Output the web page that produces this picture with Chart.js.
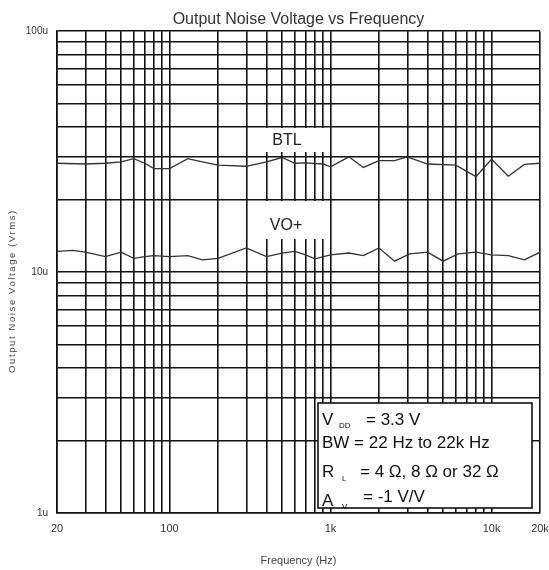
<!DOCTYPE html>
<html>
<head>
<meta charset="utf-8">
<title>Output Noise Voltage vs Frequency</title>
<script src="https://cdn.jsdelivr.net/npm/chart.js@4.4.1/dist/chart.umd.min.js"></script>
<style>
    body { margin: 0; background: #fff; }
    #wrap { width: 549px; height: 570px; position: relative; }
</style>
</head>
<body>
<div id="wrap"><canvas id="noiseChart"></canvas></div>
<script>
// values (noise in uVrms)

const btlFreq = [20, 30, 40, 50, 60, 70, 80, 100, 130, 160, 200, 300, 400, 500, 600, 700, 900, 1000,
    1300, 1600, 2000, 2500, 3000, 4000, 6000, 8000, 10000, 12700, 16000, 20000];
const btlNoise = [28.3, 28.1, 28.3, 28.7, 29.6, 28.3, 26.9, 26.9, 29.6, 28.7, 27.8, 27.5, 28.7, 29.9, 28.3, 28.4, 28.1, 27.35,
    30.1, 27.2, 29.0, 29.0, 30.1, 28.1, 27.8, 24.9, 29.4, 25.0, 28.0, 28.3];

const voFreq = [20, 25, 30, 40, 50, 60, 70, 80, 100, 130, 160, 200, 300, 400, 500, 600, 700, 800, 1000,
    1300, 1600, 2000, 2500, 3100, 4000, 5000, 6200, 8000, 10000, 12700, 16000, 20000];
const voNoise = [12.19, 12.3, 12.1, 11.6, 12.1, 11.4, 11.6, 11.7, 11.6, 11.7, 11.25, 11.4, 12.6, 11.6, 12.0, 12.2, 11.8, 11.35, 11.8,
    12.0, 11.7, 12.6, 11.1, 11.9, 12.1, 11.1, 11.9, 12.1, 11.8, 11.7, 11.25, 12.1];

// grid lines and tick labels
const freqTicks = [20, 30, 40, 50, 60, 70, 80, 90, 100, 200, 300, 400, 500, 600, 700, 800, 900, 1000,
    2000, 3000, 4000, 5000, 6000, 7000, 8000, 9000, 10000, 20000];
const freqLabels = { 20: '20', 100: '100', 1000: '1k', 10000: '10k', 20000: '20k' };
const noiseTicks = [1, 2, 3, 4, 5, 6, 7, 8, 9, 10, 20, 30, 40, 50, 60, 70, 80, 90, 100];
const noiseLabels = { 1: '1u', 10: '10u', 100: '100u' };

const curveLabels = ['BTL', 'VO+'];
const conditions = ['V', 'DD', '= 3.3 V', 'BW = 22 Hz to 22k Hz', 'R', 'L', '= 4 Ω, 8 Ω or 32 Ω', 'A', 'V', '= -1 V/V'];

const font = "'Liberation Sans', Arial, sans-serif";
const ink = '#111';

function toPoints(xs, ys) {
    return xs.map((x, i) => ({ x: x, y: ys[i] }));
}

// white label boxes over the grid, before the curves
const curveLabelPlugin = {
    id: 'curveLabels',
    beforeDatasetsDraw(chart) {
        const ctx = chart.ctx;
        const a = chart.chartArea;
        ctx.save();
        ctx.fillStyle = '#fff';
        ctx.fillRect(a.left + 205, 128, 65, 24);
        ctx.fillRect(a.left + 205, 201, 65, 38);
        ctx.fillStyle = '#222';
        ctx.font = '16px ' + font;
        ctx.textAlign = 'center';
        ctx.textBaseline = 'middle';
        ctx.fillText(curveLabels[0], a.left + 230, 141);
        ctx.fillText(curveLabels[1], a.left + 229, 226);
        ctx.restore();
    }
};

// conditions box and the y axis title
const notesPlugin = {
    id: 'notes',
    afterDatasetsDraw(chart) {
        const ctx = chart.ctx;
        ctx.save();
        ctx.fillStyle = '#fff';
        ctx.strokeStyle = ink;
        ctx.lineWidth = 1.6;
        ctx.fillRect(318, 403, 214, 105);
        ctx.strokeRect(318, 403, 214, 105);

        ctx.fillStyle = ink;
        ctx.textAlign = 'left';
        ctx.textBaseline = 'alphabetic';
        const big = '17px ' + font;
        const small = '8px ' + font;
        ctx.font = big;
        ctx.fillText(conditions[0], 322, 425);
        ctx.fillText(conditions[2], 366, 425);
        ctx.fillText(conditions[3], 322, 448);
        ctx.fillText(conditions[4], 322, 477);
        ctx.fillText(conditions[6], 360, 477);
        ctx.fillText(conditions[7], 322, 506);
        ctx.fillText(conditions[9], 363, 502);
        ctx.font = small;
        ctx.fillText(conditions[1], 339, 428);
        ctx.fillText(conditions[5], 342, 481);
        ctx.fillText(conditions[8], 342, 509);
        ctx.restore();
    },
    afterDraw(chart) {
        const ctx = chart.ctx;
        ctx.save();
        ctx.translate(12, 291);
        ctx.rotate(-Math.PI / 2);
        ctx.fillStyle = '#444';
        ctx.font = '9.5px ' + font;
        ctx.letterSpacing = '1.6px';
        ctx.textAlign = 'center';
        ctx.textBaseline = 'middle';
        ctx.fillText('Output Noise Voltage (Vrms)', 0, 0);
        ctx.restore();
    }
};

function createChart() {
    const ctx = document.getElementById('noiseChart').getContext('2d');
    const lineStyle = {
        borderColor: '#333',
        borderWidth: 1.3,
        pointRadius: 0,
        tension: 0,
        fill: false
    };
    const noiseChart = new Chart(ctx, {
        type: 'line',
        data: {
            datasets: [
                Object.assign({ label: 'BTL', data: toPoints(btlFreq, btlNoise) }, lineStyle),
                Object.assign({ label: 'VO+', data: toPoints(voFreq, voNoise) }, lineStyle)
            ]
        },
        options: {
            responsive: true,
            maintainAspectRatio: false,
            animation: false,
            layout: { padding: { left: 0, right: 9, top: 0, bottom: 0 } },
            plugins: {
                legend: { display: false },
                tooltip: { enabled: false },
                title: {
                    display: true,
                    text: 'Output Noise Voltage vs Frequency',
                    fullSize: false,
                    color: '#333',
                    font: { family: font, size: 16, weight: 'normal' },
                    padding: { top: 10, bottom: 2 }
                }
            },
            scales: {
                x: {
                    type: 'logarithmic',
                    min: 20,
                    max: 20000,
                    afterBuildTicks: (scale) => { scale.ticks = freqTicks.map(v => ({ value: v })); },
                    afterFit: (scale) => {
                        scale.height = 57;
                        scale.paddingLeft = 0;
                        scale.paddingRight = 0;
                    },
                    grid: { color: ink, lineWidth: 1.6, drawTicks: false },
                    border: { display: true, color: ink, width: 1.6 },
                    ticks: {
                        autoSkip: false,
                        maxRotation: 0,
                        padding: 9,
                        color: '#333',
                        font: { family: font, size: 11 },
                        callback: (v) => freqLabels[v] || ''
                    },
                    title: {
                        display: true,
                        text: 'Frequency (Hz)',
                        color: '#444',
                        font: { family: font, size: 11 },
                        padding: { top: 2, bottom: 2 }
                    }
                },
                y: {
                    type: 'logarithmic',
                    min: 1,
                    max: 100,
                    afterBuildTicks: (scale) => { scale.ticks = noiseTicks.map(v => ({ value: v })); },
                    afterFit: (scale) => {
                        scale.width = 57;
                        scale.paddingTop = 0;
                        scale.paddingBottom = 0;
                    },
                    grid: { color: ink, lineWidth: 1.6, drawTicks: false },
                    border: { display: true, color: ink, width: 1.6 },
                    ticks: {
                        autoSkip: false,
                        padding: 9,
                        color: '#333',
                        font: { family: font, size: 10 },
                        callback: (v) => noiseLabels[v] || ''
                    }
                }
            }
        },
        plugins: [curveLabelPlugin, notesPlugin]
    });
}

window.onload = function () {
    createChart();
};
</script>
</body>
</html>
